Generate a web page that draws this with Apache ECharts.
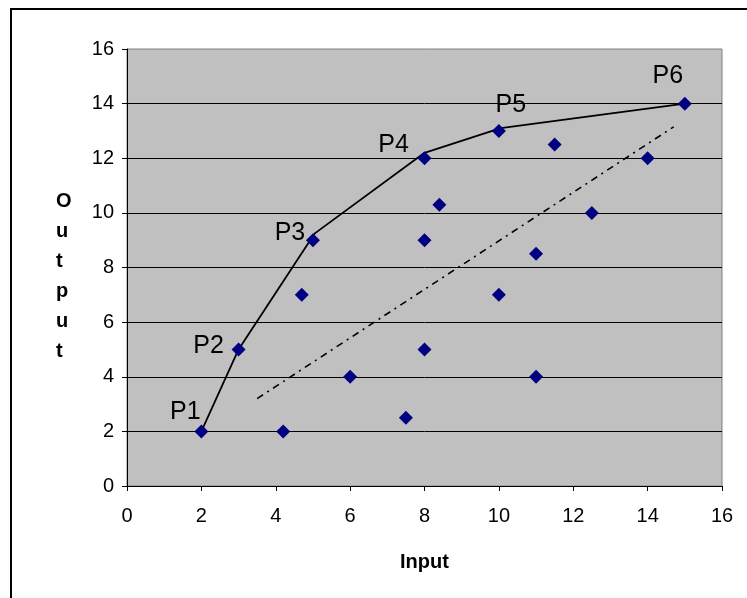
<!DOCTYPE html>
<html>
<head>
<meta charset="utf-8">
<script src="https://cdn.jsdelivr.net/npm/echarts@6/dist/echarts.min.js"></script>
<style>
  html, body { margin: 0; padding: 0; background: #ffffff; }
  #chart { width: 747px; height: 598px; }
</style>
</head>
<body>
<div id="chart"></div>
<script>
// Units (DMUs): input consumed and output produced
const inputs  = [2, 3, 5, 8, 10, 15, 4.2, 4.7, 6, 7.5, 8, 8, 8.4, 10, 11, 11, 11.5, 12.5, 14];
const outputs = [2, 5, 9, 12, 13, 14, 2, 7, 4, 2.5, 5, 9, 10.3, 7, 8.5, 4, 12.5, 10, 12];
// Names shown next to the efficient units (first six points)
const pointNames = ['P1', 'P2', 'P3', 'P4', 'P5', 'P6'];

// Piecewise-linear efficient frontier through P1..P6
const frontierX = [2, 3, 5.05, 8, 10.05, 15];
const frontierY = [2, 5, 9.25, 12.2, 13.1, 14];

// Average-practice reference line (dash-dot)
const trendX = [3.5, 14.7];
const trendY = [3.2, 13.15];

// Axis ticks
const axisMin = 0, axisMax = 16, axisStep = 2;

// Label offsets (px) from each named marker's centre
const nameOffsets = [[-16, -19], [-30, -3], [-23, -7], [-31, -13], [12, -26], [-17, -28]];

const FONT = "'Liberation Sans', Arial, sans-serif";

const scatterData = inputs.map((x, i) => {
  const item = { value: [x, outputs[i]] };
  if (i < pointNames.length) {
    item.label = {
      show: true,
      formatter: pointNames[i],
      position: 'inside',
      offset: nameOffsets[i],
      align: 'center',
      verticalAlign: 'middle'
    };
  }
  return item;
});

const chart = echarts.init(document.getElementById('chart'), null, { renderer: 'canvas' });

chart.setOption({
  animation: false,
  backgroundColor: '#ffffff',
  textStyle: { fontFamily: FONT },
  grid: {
    left: 127, right: 25, top: 49, bottom: 112,
    show: true,
    backgroundColor: '#C0C0C0',
    borderColor: '#808080',
    borderWidth: 1
  },
  xAxis: {
    type: 'value',
    min: axisMin, max: axisMax, interval: axisStep,
    name: 'Input',
    nameLocation: 'middle',
    nameGap: 66,
    nameTextStyle: { fontFamily: FONT, fontWeight: 'bold', fontSize: 20, color: '#000' },
    axisLine: { show: true, onZero: false, lineStyle: { color: '#000', width: 1 } },
    axisTick: { show: true, inside: false, length: 5, lineStyle: { color: '#000' } },
    axisLabel: { fontFamily: FONT, fontSize: 20, color: '#000', margin: 20 },
    splitLine: { show: false }
  },
  yAxis: {
    type: 'value',
    min: axisMin, max: axisMax, interval: axisStep,
    axisLine: { show: true, onZero: false, lineStyle: { color: '#000', width: 1 } },
    axisTick: { show: true, inside: false, length: 5, lineStyle: { color: '#000' } },
    axisLabel: { fontFamily: FONT, fontSize: 20, color: '#000', margin: 13 },
    splitLine: {
      show: true,
      showMinLine: false,
      showMaxLine: false,
      lineStyle: { color: '#000', width: 1 }
    }
  },
  graphic: [
    {
      // outer chart frame
      type: 'rect',
      shape: { x: 11, y: 9, width: 760, height: 620 },
      style: { fill: 'none', stroke: '#000', lineWidth: 2 },
      silent: true,
      z: 100
    },
    {
      type: 'text',
      left: 56, top: 186,
      style: {
        text: 'O\nu\nt\np\nu\nt',
        font: "bold 20px 'Liberation Sans', Arial, sans-serif",
        fill: '#000',
        align: 'center',
        lineHeight: 30
      }
    }
  ],
  series: [
    {
      name: 'Frontier',
      type: 'line',
      data: frontierX.map((x, i) => [x, frontierY[i]]),
      symbol: 'none',
      lineStyle: { color: '#000', width: 1.8 },
      z: 2
    },
    {
      name: 'Average',
      type: 'line',
      data: trendX.map((x, i) => [x, trendY[i]]),
      symbol: 'none',
      lineStyle: { color: '#000', width: 1.6, type: [7, 5, 2, 5] },
      z: 2
    },
    {
      name: 'Units',
      type: 'scatter',
      data: scatterData,
      symbol: 'diamond',
      symbolSize: [14, 14],
      itemStyle: { color: '#000080', opacity: 1 },
      label: { fontFamily: FONT, fontSize: 25, color: '#000' },
      z: 3
    }
  ]
});
</script>
</body>
</html>
